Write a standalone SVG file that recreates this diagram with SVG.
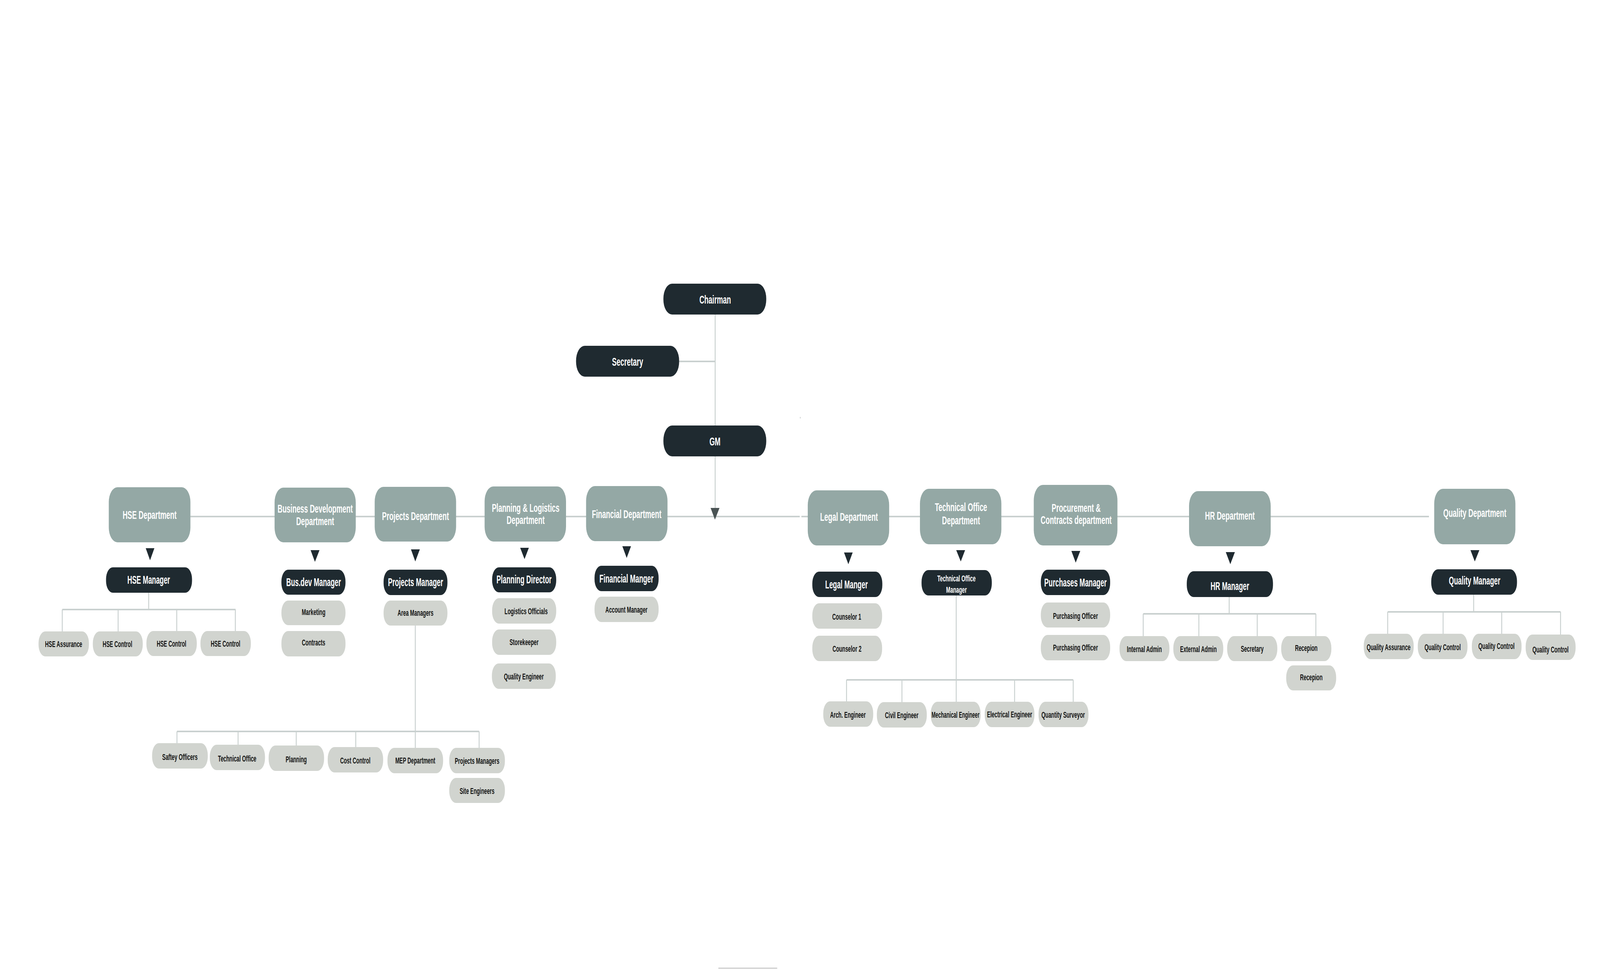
<svg xmlns="http://www.w3.org/2000/svg" width="7016" height="2480" viewBox="0 0 7016 2480" preserveAspectRatio="none">
<style>
@media (max-width:7000px){svg{width:100vw;height:100vh}}
text{font-family:"Liberation Sans",Arial,sans-serif;font-weight:bold;text-anchor:middle}
.dept{fill:#94a8a5}
.mgr{fill:#1f2a30}
.child{fill:#d1d4cf}
.td{font-size:30px;fill:#ffffff}
.tm{font-size:29px;fill:#ffffff}
.ts{font-size:22px;fill:#ffffff}
.tc{font-size:22px;fill:#141414}
.ln{stroke:#c9d0cf;stroke-width:4;fill:none}
.arr{fill:#1f2a30}
</style>
<rect width="7016" height="2480" fill="#ffffff"/>
<g id="connectors">
<path class="ln" d="M3136 805V1300M2978 925H3136"/>
<path class="ln" d="M835 1322H3507M3514 1322H6266"/>
<polygon points="3116,1300 3155,1300 3135,1330" fill="#4a5354"/>
<path class="ln" d="M652 1517V1560M273 1560H1033M273 1560V1616M518 1560V1616M775 1560V1616M1032 1560V1616"/>
<path class="ln" d="M1821 1601V1872M776 1872H2101M776 1872V1902M1044 1872V1906M1299 1872V1908M1560 1872V1912M1821 1872V1914M2101 1872V1914"/>
<path class="ln" d="M4193 1524V1740M3712 1740H4706M3712 1740V1796M3955 1740V1797M4193 1740V1796M4449 1740V1796M4706 1740V1796"/>
<path class="ln" d="M5390 1528V1571M5013 1571H5770M5013 1571V1628M5257 1571V1628M5513 1571V1628M5770 1571V1628"/>
<path class="ln" d="M6462 1522V1566M6085 1566H6843M6085 1566V1622M6328 1566V1622M6585 1566V1622M6843 1566V1624"/>
<polygon class="arr" points="639,1403 677,1403 658,1434"/>
<polygon class="arr" points="1362,1408 1401,1408 1381,1438"/>
<polygon class="arr" points="1802,1406 1841,1406 1821,1437"/>
<polygon class="arr" points="2281,1402 2319,1402 2300,1431"/>
<polygon class="arr" points="2729,1398 2767,1398 2748,1428"/>
<polygon class="arr" points="3701,1414 3739,1414 3720,1444"/>
<polygon class="arr" points="4193,1408 4232,1408 4213,1437"/>
<polygon class="arr" points="4698,1410 4737,1410 4717,1440"/>
<polygon class="arr" points="5375,1413 5415,1413 5395,1444"/>
<polygon class="arr" points="6448,1408 6487,1408 6467,1437"/>
<rect x="3508" y="1067" width="2" height="4" fill="#b0b6b6"/>
<line x1="3150" y1="2478" x2="3408" y2="2478" stroke="#d8d8d8" stroke-width="4"/>
</g>
<g id="chairman"><rect class="mgr" x="2909" y="726" width="451" height="79" rx="38"/><text class="td" x="3136" y="777">Chairman</text></g>
<g id="secretary-top"><rect class="mgr" x="2526" y="885" width="452" height="79" rx="38"/><text class="td" x="2752" y="936">Secretary</text></g>
<g id="gm"><rect class="mgr" x="2909" y="1089" width="451" height="79" rx="38"/><text class="td" x="3135" y="1140">GM</text></g>

<g id="hse-dept"><rect class="dept" x="477" y="1247" width="358" height="141" rx="38"/><text class="td" x="656" y="1328">HSE Department</text></g>
<g id="busdev-dept"><rect class="dept" x="1204" y="1248" width="356" height="140" rx="38"/><text class="td" x="1382" y="1312">Business Development</text><text class="td" x="1382" y="1344">Department</text></g>
<g id="projects-dept"><rect class="dept" x="1643" y="1246" width="357" height="140" rx="38"/><text class="td" x="1822" y="1331">Projects Department</text></g>
<g id="planning-dept"><rect class="dept" x="2125" y="1245" width="357" height="141" rx="38"/><text class="td" x="2305" y="1310">Planning &amp; Logistics</text><text class="td" x="2305" y="1341">Department</text></g>
<g id="financial-dept"><rect class="dept" x="2570" y="1244" width="357" height="141" rx="38"/><text class="td" x="2748" y="1326">Financial Department</text></g>
<g id="legal-dept"><rect class="dept" x="3542" y="1255" width="357" height="141" rx="38"/><text class="td" x="3723" y="1333">Legal Department</text></g>
<g id="tech-dept"><rect class="dept" x="4034" y="1251" width="357" height="142" rx="38"/><text class="td" x="4214" y="1308">Technical Office</text><text class="td" x="4214" y="1342">Department</text></g>
<g id="procurement-dept"><rect class="dept" x="4533" y="1241" width="367" height="155" rx="40"/><text class="td" x="4719" y="1310">Procurement &amp;</text><text class="td" x="4719" y="1341">Contracts department</text></g>
<g id="hr-dept"><rect class="dept" x="5214" y="1257" width="358" height="141" rx="38"/><text class="td" x="5393" y="1330">HR Department</text></g>
<g id="quality-dept"><rect class="dept" x="6289" y="1251" width="356" height="142" rx="38"/><text class="td" x="6467" y="1323">Quality Department</text></g>

<g id="hse-manager"><rect class="mgr" x="465" y="1452" width="377" height="65" rx="30"/><text class="tm" x="652" y="1494">HSE Manager</text></g>
<g id="busdev-manager"><rect class="mgr" x="1234" y="1458" width="281" height="64" rx="30"/><text class="tm" x="1375" y="1500">Bus.dev Manager</text></g>
<g id="projects-manager"><rect class="mgr" x="1682" y="1458" width="280" height="65" rx="30"/><text class="tm" x="1822" y="1500">Projects Manager</text></g>
<g id="planning-director"><rect class="mgr" x="2158" y="1452" width="281" height="64" rx="30"/><text class="tm" x="2298" y="1493">Planning Director</text></g>
<g id="financial-manager"><rect class="mgr" x="2607" y="1448" width="281" height="65" rx="30"/><text class="tm" x="2747" y="1491">Financial Manger</text></g>
<g id="legal-manager"><rect class="mgr" x="3562" y="1463" width="307" height="65" rx="30"/><text class="tm" x="3712" y="1506">Legal Manger</text></g>
<g id="tech-manager"><rect class="mgr" x="4041" y="1459" width="308" height="65" rx="30"/><text class="ts" x="4194" y="1488">Technical Office</text><text class="ts" x="4194" y="1517">Manager</text></g>
<g id="purchases-manager"><rect class="mgr" x="4564" y="1458" width="304" height="65" rx="30"/><text class="tm" x="4716" y="1501">Purchases Manager</text></g>
<g id="hr-manager"><rect class="mgr" x="5204" y="1462" width="378" height="66" rx="30"/><text class="tm" x="5393" y="1510">HR Manager</text></g>
<g id="quality-manager"><rect class="mgr" x="6276" y="1457" width="376" height="65" rx="30"/><text class="tm" x="6466" y="1496">Quality Manager</text></g>

<g id="hse-assurance"><rect class="child" x="169" y="1616" width="221" height="64" rx="30"/><text class="tc" x="279" y="1656">HSE Assurance</text></g>
<g id="hse-control-1"><rect class="child" x="407" y="1616" width="219" height="64" rx="30"/><text class="tc" x="515" y="1656">HSE Control</text></g>
<g id="hse-control-2"><rect class="child" x="642" y="1615" width="221" height="64" rx="30"/><text class="tc" x="752" y="1655">HSE Control</text></g>
<g id="hse-control-3"><rect class="child" x="879" y="1615" width="221" height="64" rx="30"/><text class="tc" x="989" y="1655">HSE Control</text></g>

<g id="marketing"><rect class="child" x="1234" y="1537" width="281" height="63" rx="30"/><text class="tc" x="1375" y="1574">Marketing</text></g>
<g id="contracts"><rect class="child" x="1234" y="1615" width="281" height="65" rx="30"/><text class="tc" x="1375" y="1652">Contracts</text></g>

<g id="area-managers"><rect class="child" x="1682" y="1537" width="280" height="64" rx="30"/><text class="tc" x="1822" y="1576">Area Managers</text></g>
<g id="saftey-officers"><rect class="child" x="667" y="1902" width="244" height="65" rx="30"/><text class="tc" x="789" y="1945">Saftey Officers</text></g>
<g id="technical-office"><rect class="child" x="920" y="1906" width="242" height="65" rx="30"/><text class="tc" x="1040" y="1949">Technical Office</text></g>
<g id="planning"><rect class="child" x="1178" y="1908" width="243" height="65" rx="30"/><text class="tc" x="1299" y="1951">Planning</text></g>
<g id="cost-control"><rect class="child" x="1437" y="1912" width="243" height="65" rx="30"/><text class="tc" x="1558" y="1954">Cost Control</text></g>
<g id="mep-department"><rect class="child" x="1699" y="1914" width="244" height="65" rx="30"/><text class="tc" x="1821" y="1954">MEP Department</text></g>
<g id="projects-managers"><rect class="child" x="1970" y="1914" width="244" height="65" rx="30"/><text class="tc" x="2092" y="1955">Projects Managers</text></g>
<g id="site-engineers"><rect class="child" x="1970" y="1991" width="244" height="64" rx="30"/><text class="tc" x="2092" y="2032">Site Engineers</text></g>

<g id="logistics-officials"><rect class="child" x="2158" y="1531" width="281" height="65" rx="30"/><text class="tc" x="2307" y="1572">Logistics Officials</text></g>
<g id="storekeeper"><rect class="child" x="2158" y="1611" width="281" height="65" rx="30"/><text class="tc" x="2298" y="1651">Storekeeper</text></g>
<g id="quality-engineer"><rect class="child" x="2157" y="1698" width="280" height="65" rx="30"/><text class="tc" x="2297" y="1739">Quality Engineer</text></g>

<g id="account-manager"><rect class="child" x="2607" y="1527" width="281" height="65" rx="30"/><text class="tc" x="2747" y="1568">Account Manager</text></g>

<g id="counselor-1"><rect class="child" x="3562" y="1544" width="306" height="65" rx="30"/><text class="tc" x="3713" y="1586">Counselor 1</text></g>
<g id="counselor-2"><rect class="child" x="3562" y="1627" width="306" height="65" rx="30"/><text class="tc" x="3714" y="1668">Counselor 2</text></g>

<g id="arch-engineer"><rect class="child" x="3610" y="1795" width="219" height="65" rx="30"/><text class="tc" x="3718" y="1837">Arch. Engineer</text></g>
<g id="civil-engineer"><rect class="child" x="3845" y="1797" width="219" height="65" rx="30"/><text class="tc" x="3954" y="1838">Civil Engineer</text></g>
<g id="mechanical-engineer"><rect class="child" x="4081" y="1796" width="219" height="65" rx="30"/><text class="tc" x="4190" y="1837" textLength="210" lengthAdjust="spacingAndGlyphs">Mechanical Engineer</text></g>
<g id="electrical-engineer"><rect class="child" x="4318" y="1796" width="218" height="65" rx="30"/><text class="tc" x="4427" y="1836">Electrical Engineer</text></g>
<g id="quantity-surveyor"><rect class="child" x="4554" y="1796" width="219" height="65" rx="30"/><text class="tc" x="4662" y="1837">Quantity Surveyor</text></g>

<g id="purchasing-officer-1"><rect class="child" x="4564" y="1542" width="304" height="64" rx="30"/><text class="tc" x="4716" y="1584">Purchasing Officer</text></g>
<g id="purchasing-officer-2"><rect class="child" x="4564" y="1625" width="304" height="65" rx="30"/><text class="tc" x="4716" y="1665">Purchasing Officer</text></g>

<g id="internal-admin"><rect class="child" x="4909" y="1628" width="219" height="64" rx="30"/><text class="tc" x="5018" y="1669">Internal Admin</text></g>
<g id="external-admin"><rect class="child" x="5145" y="1628" width="219" height="64" rx="30"/><text class="tc" x="5255" y="1669">External Admin</text></g>
<g id="hr-secretary"><rect class="child" x="5381" y="1628" width="220" height="64" rx="30"/><text class="tc" x="5491" y="1668">Secretary</text></g>
<g id="recepion-1"><rect class="child" x="5618" y="1628" width="220" height="64" rx="30"/><text class="tc" x="5728" y="1666">Recepion</text></g>
<g id="recepion-2"><rect class="child" x="5640" y="1703" width="219" height="64" rx="30"/><text class="tc" x="5750" y="1741">Recepion</text></g>

<g id="quality-assurance"><rect class="child" x="5980" y="1622" width="219" height="65" rx="30"/><text class="tc" x="6089" y="1664">Quality Assurance</text></g>
<g id="quality-control-1"><rect class="child" x="6217" y="1622" width="218" height="65" rx="30"/><text class="tc" x="6326" y="1664">Quality Control</text></g>
<g id="quality-control-2"><rect class="child" x="6454" y="1622" width="218" height="65" rx="30"/><text class="tc" x="6562" y="1661">Quality Control</text></g>
<g id="quality-control-3"><rect class="child" x="6690" y="1624" width="219" height="65" rx="30"/><text class="tc" x="6799" y="1670">Quality Control</text></g>
</svg>
